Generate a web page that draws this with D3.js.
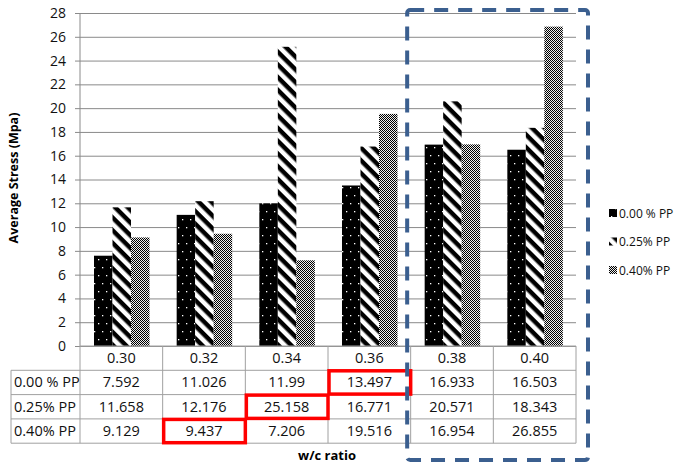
<!DOCTYPE html>
<html>
<head>
<meta charset="utf-8">
<script src="https://cdn.jsdelivr.net/npm/d3@7"></script>
<style>
  body { margin: 0; background: #fff; }
  svg { display: block; font-family: "Open Sans", "Liberation Sans", sans-serif; }
</style>
</head>
<body>
<svg width="674" height="467"></svg>
<script>
// ---- data ----
var ratios = ["0.30", "0.32", "0.34", "0.36", "0.38", "0.40"];
var seriesNames = ["0.00 % PP", "0.25% PP", "0.40% PP"];
var pp000 = [7.592, 11.026, 11.99, 13.497, 16.933, 16.503];
var pp025 = [11.658, 12.176, 25.158, 16.771, 20.571, 18.343];
var pp040 = [9.129, 9.437, 7.206, 19.516, 16.954, 26.855];
var yTicks = [0, 2, 4, 6, 8, 10, 12, 14, 16, 18, 20, 22, 24, 26, 28];
// highlighted cells: [series index, ratio index]
var marked = [[0, 3], [1, 2], [2, 1]];
var boxed = ["0.38", "0.40"];

var values = [pp000, pp025, pp040];

// ---- layout ----
var svg = d3.select("svg");
var plotL = 80, plotR = 576, plotT = 13, base = 346;
var rowH = 24.3, labelX = 11;

var x = d3.scaleBand().domain(ratios).range([plotL, plotR]);
var xs = d3.scaleBand().domain(d3.range(3)).range([14, 14 + 55.5]);
var y = d3.scaleLinear().domain([0, 28]).range([base, plotT]);

// ---- patterns ----
var defs = svg.append("defs");
var dots = defs.append("pattern").attr("id", "p0").attr("patternUnits", "userSpaceOnUse")
  .attr("width", 8).attr("height", 16);
dots.append("rect").attr("width", 8).attr("height", 16).attr("fill", "#000");
dots.append("rect").attr("x", 2).attr("y", 3).attr("width", 1.3).attr("height", 1.3).attr("fill", "#fff");
dots.append("rect").attr("x", 6).attr("y", 11).attr("width", 1.3).attr("height", 1.3).attr("fill", "#fff");

var stripe = defs.append("pattern").attr("id", "p1").attr("patternUnits", "userSpaceOnUse")
  .attr("width", 9).attr("height", 9).attr("patternTransform", "rotate(45)");
stripe.append("rect").attr("width", 9).attr("height", 9).attr("fill", "#fff");
stripe.append("rect").attr("width", 9).attr("height", 4.5).attr("fill", "#000");

var check = defs.append("pattern").attr("id", "p2").attr("patternUnits", "userSpaceOnUse")
  .attr("width", 2).attr("height", 2);
check.append("rect").attr("width", 2).attr("height", 2).attr("fill", "#eee");
check.append("rect").attr("width", 1).attr("height", 1).attr("fill", "#000");
check.append("rect").attr("x", 1).attr("y", 1).attr("width", 1).attr("height", 1).attr("fill", "#000");

var fills = ["url(#p0)", "url(#p1)", "url(#p2)"];

// ---- gridlines + y axis ----
var yAxis = d3.axisLeft(y).tickValues(yTicks).tickSize(5).tickSizeOuter(0).tickPadding(9);
var ga = svg.append("g").attr("transform", "translate(" + plotL + ",0)").call(yAxis);
ga.select(".domain").remove();
ga.selectAll(".tick line").attr("stroke", "#8a8a8a").attr("x1", -5).attr("x2", plotR - plotL);
ga.selectAll(".tick text").attr("font-size", 14).attr("fill", "#111")
  .attr("font-family", "Open Sans, sans-serif");
svg.append("line").attr("x1", plotL).attr("x2", plotL).attr("y1", plotT).attr("y2", base)
  .attr("stroke", "#8a8a8a");

// ---- bars ----
values.forEach(function(vals, s){
  svg.append("g").selectAll("rect").data(vals).enter().append("rect")
    .attr("x", function(d, i){ return x(ratios[i]) + xs(s); })
    .attr("width", xs.bandwidth())
    .attr("y", function(d){ return y(d); })
    .attr("height", function(d){ return base - y(d); })
    .attr("fill", fills[s]);
});

// ---- data table ----
var tbl = svg.append("g").attr("stroke", "#a0a0a0").attr("fill", "none");
tbl.append("line").attr("x1", plotL).attr("x2", plotR).attr("y1", base).attr("y2", base);
for (var r = 1; r <= 4; r++) {
  tbl.append("line").attr("x1", labelX).attr("x2", plotR)
    .attr("y1", base + r * rowH).attr("y2", base + r * rowH);
}
tbl.selectAll("line.v").data(ratios).enter().append("line")
  .attr("x1", function(d){ return x(d) + x.bandwidth(); })
  .attr("x2", function(d){ return x(d) + x.bandwidth(); })
  .attr("y1", base).attr("y2", base + 4 * rowH);
tbl.append("line").attr("x1", plotL).attr("x2", plotL).attr("y1", base).attr("y2", base + 4 * rowH);
tbl.append("line").attr("x1", labelX).attr("x2", labelX).attr("y1", base + rowH).attr("y2", base + 4 * rowH);

var txt = svg.append("g").attr("font-size", 14.5).attr("fill", "#111").attr("text-anchor", "middle");
txt.selectAll("text.h").data(ratios).enter().append("text")
  .attr("x", function(d){ return x(d) + x.bandwidth() / 2; })
  .attr("y", base + rowH / 2 + 5).text(function(d){ return d; });
values.forEach(function(vals, s){
  txt.append("text").attr("x", labelX + 3).attr("text-anchor", "start")
    .attr("y", base + (s + 1.5) * rowH + 5).text(seriesNames[s]);
  txt.selectAll("text.v" + s).data(vals).enter().append("text")
    .attr("x", function(d, i){ return x(ratios[i]) + x.bandwidth() / 2; })
    .attr("y", base + (s + 1.5) * rowH + 5).text(function(d){ return d; });
});

// red highlight boxes
svg.append("g").selectAll("rect").data(marked).enter().append("rect")
  .attr("x", function(d){ return x(ratios[d[1]]) + 1; })
  .attr("y", function(d){ return base + (d[0] + 1) * rowH + 0.5; })
  .attr("width", x.bandwidth() - 1)
  .attr("height", rowH - 1)
  .attr("fill", "none").attr("stroke", "#ff0000").attr("stroke-width", 3.5);

// ---- titles ----
svg.append("text").attr("transform", "translate(18,178) rotate(-90)")
  .attr("text-anchor", "middle").attr("font-size", 12.5).attr("font-weight", "bold")
  .text("Average Stress (Mpa)");
svg.append("text").attr("x", 327).attr("y", 460).attr("text-anchor", "middle")
  .attr("font-size", 13).attr("font-weight", "bold").text("w/c ratio");

// ---- legend ----
var lg = svg.append("g").selectAll("g").data(seriesNames).enter().append("g")
  .attr("transform", function(d, i){ return "translate(609," + (213 + i * 28.5) + ")"; });
lg.append("rect").attr("x", 0).attr("y", -4).attr("width", 8).attr("height", 8)
  .attr("fill", function(d, i){ return fills[i]; });
lg.append("text").attr("x", 10).attr("y", 4.5).attr("font-size", 12).attr("fill", "#111")
  .text(function(d){ return d; });

// ---- dashed highlight frame ----
var bx0 = x(boxed[0]) - 3.5, bx1 = x(boxed[1]) + x.bandwidth() + 12;
svg.append("rect").attr("x", bx0).attr("y", 10).attr("width", bx1 - bx0).attr("height", 450)
  .attr("rx", 3).attr("fill", "none").attr("stroke", "#3b5f8f").attr("stroke-width", 4)
  .attr("stroke-dasharray", "14,10");
</script>
</body>
</html>
